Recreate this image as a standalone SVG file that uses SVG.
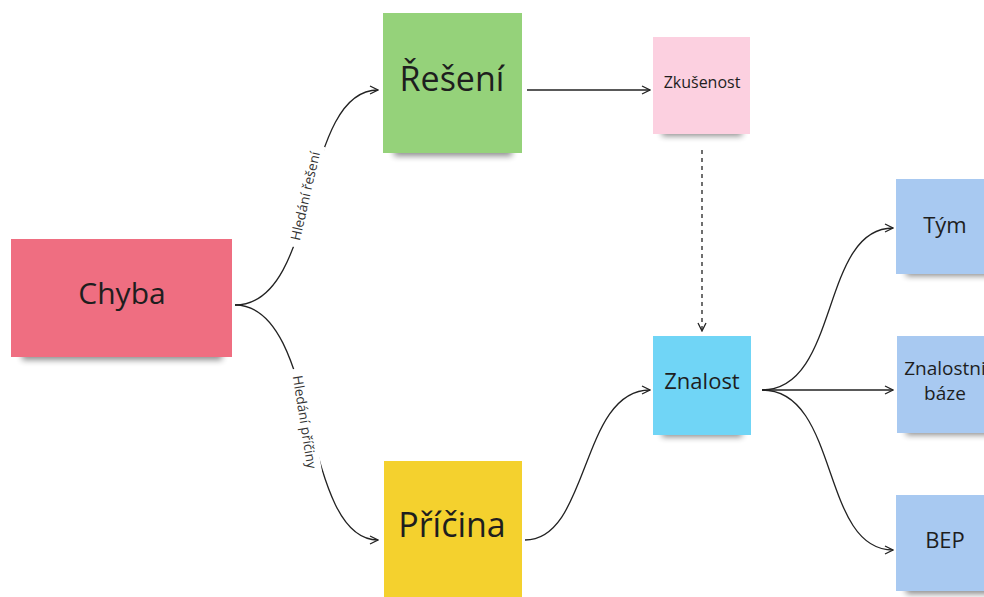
<svg xmlns="http://www.w3.org/2000/svg" width="984" height="597" viewBox="0 0 984 597">
<defs>
<style>
.t{font-family:"Open Sans","Noto Sans","Liberation Sans",sans-serif;fill:#1e1e1e;text-anchor:middle}
.c{fill:none;stroke:#222;stroke-width:1.3}
.lbl{font-family:"Open Sans","Noto Sans","Liberation Sans",sans-serif;font-size:13.5px;fill:#333;text-anchor:middle}
.sh{fill:#000;opacity:0.45;filter:url(#blur)}
</style>
<filter id="blur" x="-20%" y="-100%" width="140%" height="300%"><feGaussianBlur stdDeviation="3"/></filter>
<marker id="arr" viewBox="0 0 10 10" refX="9" refY="5" markerWidth="10" markerHeight="10" markerUnits="userSpaceOnUse" orient="auto">
<path d="M1,1 L9,5 L1,9" fill="none" stroke="#222" stroke-width="1.3"/>
</marker>
</defs>
<rect width="984" height="597" fill="#ffffff"/>

<g id="connectors">
<path class="c" d="M235,305 C320,305 300,90 378,90" marker-end="url(#arr)"/>
<path class="c" d="M235,305 C320,305 300,540 378,540" marker-end="url(#arr)"/>
<path class="c" d="M527,90 L650,90" marker-end="url(#arr)"/>
<path class="c" d="M702,150 L702,331" stroke-dasharray="4,4" marker-end="url(#arr)"/>
<path class="c" d="M525,540 C590,540 580,390 650,390" marker-end="url(#arr)"/>
<path class="c" d="M762,390 C840,390 820,228 893,228" marker-end="url(#arr)"/>
<path class="c" d="M762,390 L893,390" marker-end="url(#arr)"/>
<path class="c" d="M762,390 C840,390 820,550 893,550" marker-end="url(#arr)"/>
<g transform="translate(305,196) rotate(-77)">
<rect x="-52" y="-9" width="104" height="18" fill="#fff"/>
<text class="lbl" x="0" y="5">Hledání řešení</text>
</g>
<g transform="translate(305,422) rotate(81)">
<rect x="-54" y="-9" width="108" height="18" fill="#fff"/>
<text class="lbl" x="0" y="5">Hledání příčiny</text>
</g>
</g>

<g id="chyba">
<rect class="sh" x="22" y="348" width="200" height="12"/>
<rect x="11" y="239" width="221" height="118" fill="#ef6e81"/>
<text class="t" x="122" y="304" font-size="30">Chyba</text>
</g>

<g id="reseni">
<rect class="sh" x="394" y="144" width="118" height="12"/>
<rect x="383" y="13" width="139" height="140" fill="#95d27a"/>
<text class="t" x="452" y="91" font-size="34">Řešení</text>
</g>

<g id="zkusenost">
<rect class="sh" x="662" y="126" width="80" height="10"/>
<rect x="653" y="37" width="97" height="97" fill="#fcd0e0"/>
<text class="t" x="702" y="88" font-size="16">Zkušenost</text>
</g>

<g id="znalost">
<rect class="sh" x="662" y="427" width="80" height="10"/>
<rect x="653" y="336" width="98" height="99" fill="#70d5f6"/>
<text class="t" x="702" y="389" font-size="22">Znalost</text>
</g>

<g id="pricina">
<rect x="384" y="461" width="138" height="140" fill="#f4d12e"/>
<text class="t" x="452" y="537" font-size="34">Příčina</text>
</g>

<g id="tym">
<rect class="sh" x="906" y="266" width="90" height="10"/>
<rect x="896" y="179" width="95" height="95" fill="#a8c9f1"/>
<text class="t" x="945" y="233" font-size="22">Tým</text>
</g>

<g id="znalostni-baze">
<rect class="sh" x="906" y="425" width="90" height="10"/>
<rect x="897" y="336" width="95" height="97" fill="#a8c9f1"/>
<text class="t" x="945" y="375" font-size="19">Znalostni</text>
<text class="t" x="945" y="400" font-size="19">báze</text>
</g>

<g id="bep">
<rect class="sh" x="906" y="584" width="90" height="10"/>
<rect x="896" y="495" width="95" height="96" fill="#a8c9f1"/>
<text class="t" x="945" y="548" font-size="22">BEP</text>
</g>
</svg>
